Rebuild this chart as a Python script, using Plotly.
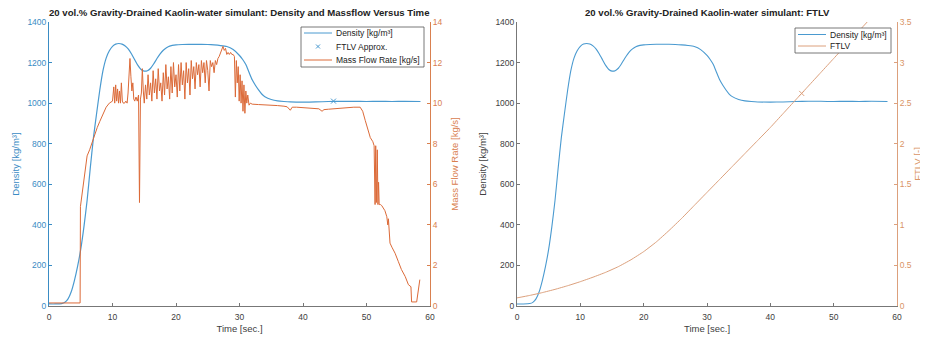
import plotly.graph_objects as go

# ---------------- data ----------------
TIME_DENSITY = [0, 1, 2, 2.5, 3, 3.5, 4, 4.5, 5, 5.5, 6, 6.5, 7, 7.5, 8, 8.5, 9, 9.5,
                10, 10.5, 11, 11.5, 12, 12.5, 13, 13.5, 14, 14.5, 15, 15.5, 16, 16.5,
                17, 17.5, 18, 18.5, 19, 20, 21, 22, 23, 24, 25, 26, 27, 28, 29, 30,
                30.5, 31, 31.5, 32, 32.5, 33, 33.5, 34, 35, 36, 37, 38, 40, 42, 44,
                46, 48, 50, 52, 54, 56, 58.5]
DENSITY = [10, 10, 12, 18, 35, 70, 125, 195, 280, 390, 520, 680, 830, 950, 1065, 1160,
           1222, 1258, 1280, 1291, 1294, 1291, 1282, 1266, 1242, 1214, 1186, 1166, 1158,
           1160, 1172, 1194, 1220, 1243, 1261, 1273, 1281, 1287, 1289, 1290, 1290, 1290,
           1289, 1287, 1284, 1279, 1264, 1235, 1215, 1190, 1152, 1115, 1088, 1065, 1045,
           1032, 1018, 1011, 1008, 1006, 1005, 1006, 1008, 1009, 1009, 1008, 1009, 1008,
           1009, 1008]

TIME_MASSFLOW = [0, 2, 4.9, 4.95, 5.3, 5.7, 6.0, 6.4, 6.8, 7.2, 7.6, 8.0, 8.5, 9.0, 9.5,
                 10.0, 10.2, 10.35, 10.5, 10.65, 10.8, 10.95, 11.1, 11.25, 11.4, 11.55,
                 11.7, 11.9, 12.1, 12.3, 12.45, 12.6, 12.75, 12.9, 13.05, 13.2, 13.35,
                 13.5, 13.7, 13.9, 14.1, 14.25, 14.4, 14.55, 14.7, 14.85, 15.0,
                 15.2, 15.4, 15.6, 15.8, 16.0, 16.2, 16.4, 16.6, 16.8, 17.0, 17.2, 17.4,
                 17.6, 17.8, 18.0, 18.2, 18.4, 18.6, 18.8, 19.0, 19.2, 19.4, 19.6, 19.8,
                 20.0, 20.2, 20.4, 20.6, 20.8, 21.0, 21.2, 21.4, 21.6, 21.8, 22.0, 22.2,
                 22.4, 22.6, 22.8, 23.0, 23.2, 23.4, 23.6, 23.8, 24.0, 24.2, 24.4, 24.6,
                 24.8, 25.0, 25.2, 25.4, 25.6, 25.8, 26.0, 26.2, 26.4, 26.6, 26.8, 27.0,
                 27.2, 27.4, 27.6, 27.8, 28.0, 28.2, 28.4, 28.6, 28.8, 29.0, 29.2, 29.35,
                 29.5, 29.65, 29.8, 29.95, 30.1, 30.25, 30.4, 30.55, 30.7, 30.85, 31.0,
                 31.15, 31.3, 31.5, 31.7, 32.0, 33, 34, 35, 36, 37, 37.5, 38, 38.3, 39,
                 40, 41, 42, 42.5, 43, 43.3, 44, 45, 46, 47, 48, 49, 49.4, 49.8, 50.2,
                 50.6, 51.0, 51.2, 51.35, 51.45, 51.55, 51.7, 51.8, 51.9, 52.0, 52.2,
                 52.4, 52.9, 53.2, 53.35, 53.45, 53.7, 54.0, 54.5, 55.0, 55.5, 56.1,
                 56.6, 57.0, 57.1, 57.9, 58.2, 58.4]
MASSFLOW = [0.15, 0.15, 0.15, 4.9, 5.8, 6.9, 7.4, 7.7, 8.1, 8.5, 8.8, 9.1, 9.5, 9.8, 10.0,
            10.1, 10.8, 10.0, 10.9, 10.1, 10.7, 10.0, 10.6, 10.0, 11.0, 10.1,
            10.0, 10.0, 10.1, 10.0, 10.5, 11.5, 12.2, 11.3, 10.6, 11.0, 10.2,
            10.1, 10.3, 10.1, 10.4, 5.1, 10.2, 10.5, 11.7, 10.6, 10.0,
            10.9, 10.2, 11.4, 10.4, 11.0, 10.1, 11.6, 10.5, 11.2, 10.2, 11.7, 10.6,
            11.0, 10.1, 11.5, 10.4, 11.9, 10.7, 11.3, 10.2, 11.8, 10.5, 12.0, 10.8,
            11.4, 10.3, 11.9, 10.6, 12.0, 10.9, 11.6, 10.2, 12.0, 11.0, 11.7, 10.4,
            12.1, 11.2, 11.8, 10.7, 12.0, 11.4, 11.9, 10.8, 12.1, 11.5, 12.0, 11.0,
            12.1, 11.6, 10.6, 12.1, 11.8, 12.0, 11.5, 12.1, 11.9, 12.2, 12.3, 12.5,
            12.7, 12.8, 12.6, 12.7, 12.4, 12.5, 12.4, 12.5, 12.4, 12.4, 12.3, 10.3,
            12.1, 11.0, 11.8, 10.1, 11.4, 10.0, 11.1, 9.6, 10.9, 9.5, 10.6,
            10.0, 10.4, 9.9, 10.0, 9.95, 9.93, 9.92, 9.9, 9.88, 9.85, 9.82, 9.65, 9.8, 9.8,
            9.78, 9.78, 9.75, 9.72, 9.6, 9.68, 9.7, 9.73, 9.76, 9.78, 9.8, 9.8, 9.6, 9.15, 8.7,
            8.3, 8.1, 7.9, 5.0, 7.9, 5.1, 7.7, 5.0, 6.1, 5.0, 5.0,
            4.95, 4.7, 4.4, 4.0, 4.3, 3.1, 2.9, 2.6, 2.2, 1.8, 1.45,
            1.05, 0.95, 0.2, 0.2, 0.9, 1.3]

TIME_FTLV = [0, 2, 4, 6, 8, 10, 12, 14, 16, 18, 20, 22, 24, 26, 28, 30, 32, 34, 36,
             38, 40, 42, 44, 46, 48, 50, 52, 54, 56, 58.5]
FTLV = [0.10, 0.13, 0.165, 0.205, 0.25, 0.30, 0.355, 0.415, 0.485, 0.57, 0.67, 0.79, 0.93,
        1.08, 1.24, 1.40, 1.56, 1.72, 1.88, 2.04, 2.20, 2.37, 2.54, 2.71, 2.88, 3.05,
        3.22, 3.39, 3.56, 3.77]

FTLV_APPROX_TIME = [44.8]
FTLV_APPROX_DENSITY = [1010]
FTLV_POINT_TIME = [44.95]
FTLV_POINT_VALUE = [2.62]

X_TICKS = [0, 10, 20, 30, 40, 50, 60]
DENS_TICKS = [0, 200, 400, 600, 800, 1000, 1200, 1400]
MF_TICKS = [0, 2, 4, 6, 8, 10, 12, 14]
FTLV_TICKS = [0, 0.5, 1, 1.5, 2, 2.5, 3, 3.5]

TITLE_LEFT = "20 vol.% Gravity-Drained Kaolin-water simulant: Density and Massflow Versus Time"
TITLE_RIGHT = "20 vol.% Gravity-Drained Kaolin-water simulant: FTLV"

# ---------------- styles ----------------
# the page body has an 8px margin, so the figure is drawn 8px smaller and offset
OFF = 8
W, H = 928 - OFF, 337 - OFF
FONT = "Liberation Sans, Arial, sans-serif"
BLUE = "#4a9ad0"
BLUE_TXT = "#3a8cc4"
ORANGE = "#dc6a38"
ORANGE_TXT = "#d9804f"
FTLV_C = "#dca07c"
GRAY = "#777777"
DARK = "#404040"


def px(x):
    return (x - OFF) / W


def py(y):
    return 1 - (y - OFF) / H


fig = go.Figure()

# left chart
fig.add_trace(go.Scatter(x=TIME_DENSITY, y=DENSITY, mode="lines", name="Density [kg/m³]",
                         line=dict(color=BLUE, width=1.2, shape="spline", smoothing=0.6),
                         xaxis="x", yaxis="y", showlegend=False))
fig.add_trace(go.Scatter(x=FTLV_APPROX_TIME, y=FTLV_APPROX_DENSITY, mode="markers",
                         name="FTLV Approx.",
                         marker=dict(symbol="x-thin", size=5, line=dict(color=BLUE, width=1)),
                         xaxis="x", yaxis="y", showlegend=False))
fig.add_trace(go.Scatter(x=TIME_MASSFLOW, y=MASSFLOW, mode="lines", name="Mass Flow Rate [kg/s]",
                         line=dict(color=ORANGE, width=1),
                         xaxis="x", yaxis="y2", showlegend=False))

# right chart
fig.add_trace(go.Scatter(x=TIME_DENSITY, y=DENSITY, mode="lines", name="Density [kg/m³]",
                         line=dict(color=BLUE, width=1.1, shape="spline", smoothing=0.6),
                         xaxis="x2", yaxis="y3", showlegend=False))
fig.add_trace(go.Scatter(x=TIME_FTLV, y=FTLV, mode="lines", name="FTLV",
                         line=dict(color=FTLV_C, width=1, shape="spline", smoothing=0.4),
                         xaxis="x2", yaxis="y4", showlegend=False))
fig.add_trace(go.Scatter(x=FTLV_POINT_TIME, y=FTLV_POINT_VALUE, mode="markers", name="FTLV point",
                         marker=dict(symbol="x-thin", size=5, line=dict(color=FTLV_C, width=1)),
                         xaxis="x2", yaxis="y4", showlegend=False))

tickfont = dict(family=FONT, size=8.5)
titlefont = dict(family=FONT, size=9.5)
ydom = [py(306), py(22)]


def xax(domain, anchor):
    return dict(domain=domain, anchor=anchor, range=[0, 60], tickvals=X_TICKS,
                ticks="inside", ticklen=3, tickcolor=GRAY, showline=True, linecolor=GRAY,
                linewidth=1, showgrid=False, zeroline=False, automargin=False,
                ticklabelstandoff=3,
                tickfont=dict(tickfont, color=DARK),
                title=dict(text="Time [sec.]", font=dict(titlefont, color=DARK), standoff=4))


def yax(rng, ticks, color, txtcolor, title, side="left", anchor=None, overlay=None, standoff=6):
    d = dict(range=rng, tickvals=ticks, ticks="inside", ticklen=3, tickcolor=color,
             showline=True, linecolor=color, linewidth=1, showgrid=False, zeroline=False,
             automargin=False,
             side=side, tickfont=dict(tickfont, color=txtcolor),
             title=dict(text=title, font=dict(titlefont, color=txtcolor), standoff=standoff))
    if anchor:
        d["anchor"] = anchor
    if overlay:
        d["overlaying"] = overlay
    else:
        d["domain"] = ydom
    return d


fig.update_layout(
    width=W, height=H, margin=dict(l=0, r=0, t=0, b=0, autoexpand=False),
    paper_bgcolor="white", plot_bgcolor="white",
    font=dict(family=FONT, color=DARK),
    xaxis=xax([px(49), px(430)], "y"),
    yaxis=yax([0, 1400], DENS_TICKS, BLUE_TXT, BLUE_TXT, "Density [kg/m³]", anchor="x",
              standoff=6),
    yaxis2=yax([0, 14], MF_TICKS, ORANGE_TXT, ORANGE_TXT, "Mass Flow Rate [kg/s]",
               side="right", anchor="x", overlay="y", standoff=9),
    xaxis2=xax([px(517), px(897)], "y3"),
    yaxis3=yax([0, 1400], DENS_TICKS, GRAY, DARK, "Density [kg/m³]", anchor="x2", standoff=7),
    yaxis4=yax([0, 3.5], FTLV_TICKS, "#dca07c", "#d99466", "FTLV [-]",
               side="right", anchor="x2", overlay="y3", standoff=3),
    showlegend=False,
)

annotations = [
    dict(text="<b>%s</b>" % TITLE_LEFT, x=px(239), y=py(12.5), xref="paper", yref="paper",
         showarrow=False, xanchor="center", yanchor="middle",
         font=dict(family=FONT, size=9.6, color="#222222")),
    dict(text="<b>%s</b>" % TITLE_RIGHT, x=px(707.5), y=py(13), xref="paper", yref="paper",
         showarrow=False, xanchor="center", yanchor="middle",
         font=dict(family=FONT, size=9.6, color="#222222")),
]
shapes = []

# hand-built legends (MATLAB style, compact rows)
legfont = dict(family=FONT, size=8.5, color="#222222")


def legend(box, rows):
    x0, y0, x1, y1 = box
    shapes.append(dict(type="rect", xref="paper", yref="paper", x0=px(x0), x1=px(x1),
                       y0=py(y1), y1=py(y0), fillcolor="white",
                       line=dict(color="#555555", width=0.8), layer="above"))
    for (label, kind, color, yrow) in rows:
        if kind == "line":
            shapes.append(dict(type="line", xref="paper", yref="paper",
                               x0=px(x0 + 3), x1=px(x0 + 31), y0=py(yrow), y1=py(yrow),
                               line=dict(color=color, width=1), layer="above"))
        else:
            cx = x0 + 17
            for dx in (-2, 2):
                shapes.append(dict(type="line", xref="paper", yref="paper",
                                   x0=px(cx - dx), x1=px(cx + dx), y0=py(yrow - 2),
                                   y1=py(yrow + 2), line=dict(color=color, width=1),
                                   layer="above"))
        annotations.append(dict(text=label, x=px(x0 + 33), y=py(yrow), xref="paper",
                                yref="paper", showarrow=False, xanchor="left",
                                yanchor="middle", font=legfont))


legend((301, 27, 424, 67), [("Density [kg/m³]", "line", BLUE, 33),
                            ("FTLV Approx.", "x", BLUE, 46.5),
                            ("Mass Flow Rate [kg/s]", "line", ORANGE, 60)])
legend((795, 28, 891, 53), [("Density [kg/m³]", "line", BLUE, 34.5),
                            ("FTLV", "line", FTLV_C, 46)])

fig.update_layout(annotations=annotations, shapes=shapes)
fig.write_html("out.html")
